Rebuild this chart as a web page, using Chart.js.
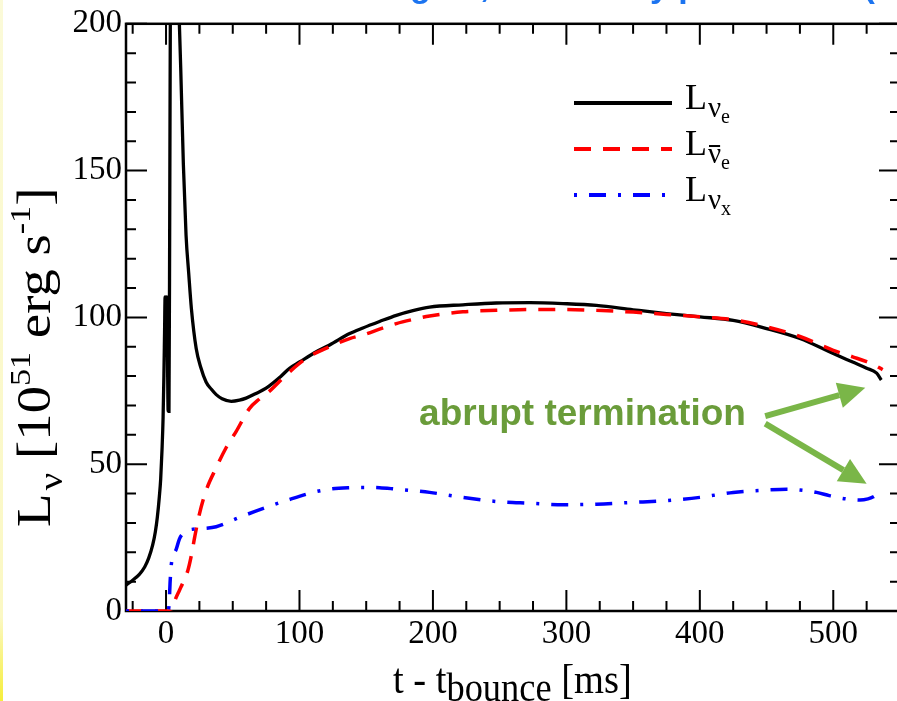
<!DOCTYPE html>
<html>
<head>
<meta charset="utf-8">
<script src="https://cdn.jsdelivr.net/npm/chart.js@4.4.1/dist/chart.umd.min.js"></script>
<style>
html, body { margin: 0; padding: 0; overflow: hidden; background: #fff; }
#wrap { position: absolute; left: 0; top: 0; width: 904px; height: 701px; }
#edge { position: absolute; left: 0; top: 0; width: 3px; height: 701px; z-index: 2;
        background: linear-gradient(#fbfad8, #fbf8c4 88%, #f6ee3a); }
</style>
</head>
<body>
<div id="wrap"><canvas id="lumChart"></canvas></div>
<div id="edge"></div>
<script>
document.addEventListener("DOMContentLoaded", () => {

/* DATA */

const xRange = [-30, 550];
const yRange = [0, 200];
const xTickLabels = [0, 100, 200, 300, 400, 500];
const yTickLabels = [0, 50, 100, 150, 200];
const xMinorTicks = [-25, 25, 50, 75, 125, 150, 175, 225, 250, 275, 325, 350, 375, 425, 450, 475, 525];
const yMinorTicks = [10, 20, 30, 40, 60, 70, 80, 90, 110, 120, 130, 140, 160, 170, 180, 190];

// nu_e
const tNue = [-30, -25, -20, -16, -13, -10, -8, -6.5, -5, -4, -3, -2.2, -1.6, -1.1, -0.7, 0, 0.6, 1.6, 2.2, 2.8,
    3.5, 5, 7, 9, 11, 13, 15, 17, 19, 22.6, 26, 30, 34, 37.6, 42, 48.9, 55, 60, 67, 75,
    86, 92.6, 100, 112.6, 122.6, 137.6, 147.5, 160, 172.6, 185, 197.5, 222.5, 247.5, 272.5, 297.5, 322.5, 350, 375, 400, 425,
    450, 475, 500, 515, 525, 532.5, 536];
const lNue = [8.8, 10.5, 12.5, 15, 18, 22.5, 27, 32, 39, 45, 55, 66, 80, 95, 107, 102, 107, 68, 68, 140,
    240, 280, 250, 215, 185, 152, 128, 115, 103, 89.4, 83, 78, 75.5, 73.7, 72.3, 71.4, 71.8, 72.5, 74, 75.9,
    79.9, 82.7, 84.8, 88.3, 90.6, 94.5, 96.4, 98.6, 100.7, 102.3, 103.5, 104.3, 104.9, 105, 104.7, 104.1, 102.6, 101.3, 100.2, 99,
    96.2, 92.8, 87.7, 84.7, 82.7, 81, 78.7];

// anti nu_e
const tAnue = [-30, 4, 5, 7, 10, 13, 16.4, 19, 21.4, 25, 30, 37.6, 45, 52.6, 62.6, 70, 77.6, 90, 105, 125,
    137.6, 147.5, 160, 172.6, 185, 197.5, 222.5, 247.5, 272.5, 297.5, 322.5, 350, 375, 400, 425, 450, 475, 500, 515, 525,
    532, 537];
const lAnue = [0, 0, 1.5, 4, 7, 10, 13.9, 19, 25, 33, 41, 48.8, 55.6, 61.2, 69, 72.2, 74.9, 80.4, 86, 90.5,
    92.8, 94, 96, 97.9, 99.3, 100.5, 101.9, 102.4, 102.7, 102.7, 102.4, 101.8, 101, 100.2, 99.2, 96.8, 93.5, 88.8, 86.5, 84.9,
    83.5, 82.2];

// nu_x
const tNux = [-30, 1.5, 2.4, 3, 4, 6, 7.6, 10, 13, 16.4, 25, 37.6, 55, 75, 90, 110, 122.6, 137.6, 147.5, 160,
    172.6, 185, 197.5, 222.5, 247.5, 272.5, 297.5, 322.5, 350, 375, 400, 425, 450, 465, 475, 487.5, 497, 505, 515, 520,
    526, 530, 536];
const lNux = [0, 0, 3, 9.4, 16, 19.5, 21, 24.5, 26.5, 27.5, 28, 28.7, 31.9, 35.3, 37.6, 40.4, 41.5, 42, 42.1, 42,
    41.5, 41, 40.4, 38.7, 37.3, 36.7, 36.2, 36.4, 37, 37.6, 38.7, 40.4, 41.2, 41.5, 41.2, 40.4, 39.3, 38.5, 37.9, 37.8,
    38.2, 38.9, 40.9];

const titleText = "Neutrino signal, luminosity per flavour (2D, s15)";
const noteText = "abrupt termination";
const notePos = [189.6, 63.4];
const arrows = [[449, 66.4, 524, 76], [449, 63.8, 525, 43.3]];

/* HELPERS */

const SERIF = "'Liberation Serif', 'Times New Roman', serif";
const SANS = "'Liberation Sans', Arial, sans-serif";

const pts = (t, l) => t.map((v, i) => ({ x: v, y: l[i] }));

function drawRich(ctx, parts, x, y) {
    let cx = x;
    ctx.textBaseline = "alphabetic";
    ctx.textAlign = "left";
    parts.forEach(p => {
        ctx.font = p.size + "px " + SERIF;
        const w = ctx.measureText(p.text).width;
        ctx.fillText(p.text, cx, y + (p.dy || 0));
        if (p.bar) {
            ctx.fillRect(cx + 1, y + p.dy - p.size * 0.62, w - 2, 2);
        }
        cx += w + (p.gap || 0);
    });
}

/* PLUGINS */

const frame = {
    id: "frame",
    beforeDatasetsDraw(chart) {
        const { ctx, chartArea: a, scales: { x, y } } = chart;
        ctx.save();
        ctx.strokeStyle = "#000";
        ctx.lineWidth = 2;
        const tx = (vals, len) => vals.forEach(v => {
            const px = x.getPixelForValue(v);
            ctx.beginPath();
            ctx.moveTo(px, a.bottom); ctx.lineTo(px, a.bottom - len);
            ctx.moveTo(px, a.top); ctx.lineTo(px, a.top + len);
            ctx.stroke();
        });
        const ty = (vals, len) => vals.forEach(v => {
            const py = y.getPixelForValue(v);
            ctx.beginPath();
            ctx.moveTo(a.left, py); ctx.lineTo(a.left + len, py);
            ctx.moveTo(a.right, py); ctx.lineTo(a.right - len, py);
            ctx.stroke();
        });
        tx(xTickLabels, 21); tx(xMinorTicks, 10);
        ty(yTickLabels, 21); ty(yMinorTicks, 10);
        ctx.lineWidth = 2.5;
        ctx.strokeRect(a.left, a.top, a.right - a.left, a.bottom - a.top);
        ctx.restore();
    }
};

const notes = {
    id: "notes",
    afterDatasetsDraw(chart) {
        const { ctx, scales: { x, y } } = chart;
        ctx.save();
        ctx.textBaseline = "alphabetic";
        ctx.textAlign = "left";
        ctx.fillStyle = "#6a9c3a";
        ctx.font = "bold 37px " + SANS;
        ctx.fillText(noteText, x.getPixelForValue(notePos[0]), y.getPixelForValue(notePos[1]));
        ctx.fillStyle = ctx.strokeStyle = "#7ab648";
        arrows.forEach(([t0, l0, t1, l1]) => {
            const x0 = x.getPixelForValue(t0), y0 = y.getPixelForValue(l0);
            const x1 = x.getPixelForValue(t1), y1 = y.getPixelForValue(l1);
            const ang = Math.atan2(y1 - y0, x1 - x0);
            const head = 27, half = 13;
            const bx = x1 - head * Math.cos(ang), by = y1 - head * Math.sin(ang);
            ctx.lineWidth = 6;
            ctx.beginPath(); ctx.moveTo(x0, y0); ctx.lineTo(bx, by); ctx.stroke();
            ctx.beginPath();
            ctx.moveTo(x1, y1);
            ctx.lineTo(bx + half * Math.sin(ang), by - half * Math.cos(ang));
            ctx.lineTo(bx - half * Math.sin(ang), by + half * Math.cos(ang));
            ctx.closePath(); ctx.fill();
        });
        ctx.restore();
    }
};

const keyBox = {
    id: "keyBox",
    afterDraw(chart) {
        const { ctx } = chart;
        const rows = [
            [{ text: "L", size: 36, gap: 1 }, { text: "ν", size: 29, dy: 8 }, { text: "e", size: 20, dy: 14 }],
            [{ text: "L", size: 36, gap: 1 }, { text: "ν", size: 29, dy: 8, bar: true }, { text: "e", size: 20, dy: 14 }],
            [{ text: "L", size: 36, gap: 1 }, { text: "ν", size: 29, dy: 8 }, { text: "x", size: 20, dy: 14 }]
        ];
        ctx.save();
        chart.data.datasets.forEach((ds, i) => {
            const ly = 103 + i * 46;
            ctx.strokeStyle = ds.borderColor;
            ctx.lineWidth = 4;
            ctx.setLineDash(ds.borderDash || []);
            ctx.beginPath(); ctx.moveTo(574, ly); ctx.lineTo(672, ly); ctx.stroke();
            ctx.setLineDash([]);
            ctx.fillStyle = "#000";
            drawRich(ctx, rows[i], 685, ly + 6);
        });
        ctx.restore();
    }
};

const axisTitles = {
    id: "axisTitles",
    afterDraw(chart) {
        const { ctx } = chart;
        ctx.save();
        ctx.fillStyle = "#000";
        ctx.translate(393, 693);
        ctx.scale(1.07, 1.15);
        drawRich(ctx, [
            { text: "t - t", size: 36 }, { text: "bounce", size: 34, dy: 7 }, { text: " [ms]", size: 36 }
        ], 0, 0);
        ctx.restore();

        ctx.save();
        ctx.fillStyle = "#000";
        ctx.translate(50, 527);
        ctx.rotate(-Math.PI / 2);
        ctx.scale(1.14, 1);
        drawRich(ctx, [
            { text: "L", size: 48, gap: 3 }, { text: "ν", size: 34, dy: 12 }, { text: " [10", size: 48 },
            { text: "51", size: 30, dy: -20 }, { text: " erg s", size: 48 }, { text: "-1", size: 30, dy: -20 },
            { text: "]", size: 48 }
        ], 0, 0);
        ctx.restore();

        // title, mostly cut off at the top edge
        ctx.save();
        ctx.textBaseline = "alphabetic";
        ctx.textAlign = "left";
        ctx.fillStyle = "#1c74f0";
        ctx.font = "bold 34px " + SANS;
        const off = ctx.measureText("Neutrino si").width;
        ctx.fillText(titleText, 410 - off, -3);
        ctx.restore();
    }
};

/* CHART */

new Chart(document.getElementById("lumChart"), {
    type: "line",
    data: {
        datasets: [
            { label: "L_nue", data: pts(tNue, lNue), borderColor: "#000000", borderWidth: 3.3, order: 3 },
            { label: "L_anue", data: pts(tAnue, lAnue), borderColor: "#ff0000", borderWidth: 3.5, borderDash: [17, 12], order: 2 },
            { label: "L_nux", data: pts(tNux, lNux), borderColor: "#0000ff", borderWidth: 3.5, borderDash: [3, 12, 17, 12], order: 1 }
        ]
    },
    options: {
        animation: false,
        responsive: true,
        maintainAspectRatio: false,
        devicePixelRatio: 1,
        layout: { padding: { top: 21, right: 4, left: 0, bottom: 0 } },
        plugins: { legend: { display: false }, tooltip: { enabled: false } },
        elements: {
            point: { radius: 0 },
            line: { cubicInterpolationMode: "monotone", fill: false }
        },
        scales: {
            x: {
                type: "linear",
                min: xRange[0], max: xRange[1],
                grid: { display: false, drawTicks: false },
                border: { display: false },
                ticks: { font: { family: SERIF, size: 33 }, color: "#000", padding: 4, maxRotation: 0 },
                afterBuildTicks: s => { s.ticks = xTickLabels.map(v => ({ value: v })); },
                afterFit: s => { s.height = 90; }
            },
            y: {
                type: "linear",
                min: yRange[0], max: yRange[1],
                grid: { display: false, drawTicks: false },
                border: { display: false },
                ticks: { font: { family: SERIF, size: 33 }, color: "#000", padding: 4 },
                afterBuildTicks: s => { s.ticks = yTickLabels.map(v => ({ value: v })); },
                afterFit: s => { s.width = 126; }
            }
        }
    },
    plugins: [frame, notes, keyBox, axisTitles]
});

});
</script>
</body>
</html>
